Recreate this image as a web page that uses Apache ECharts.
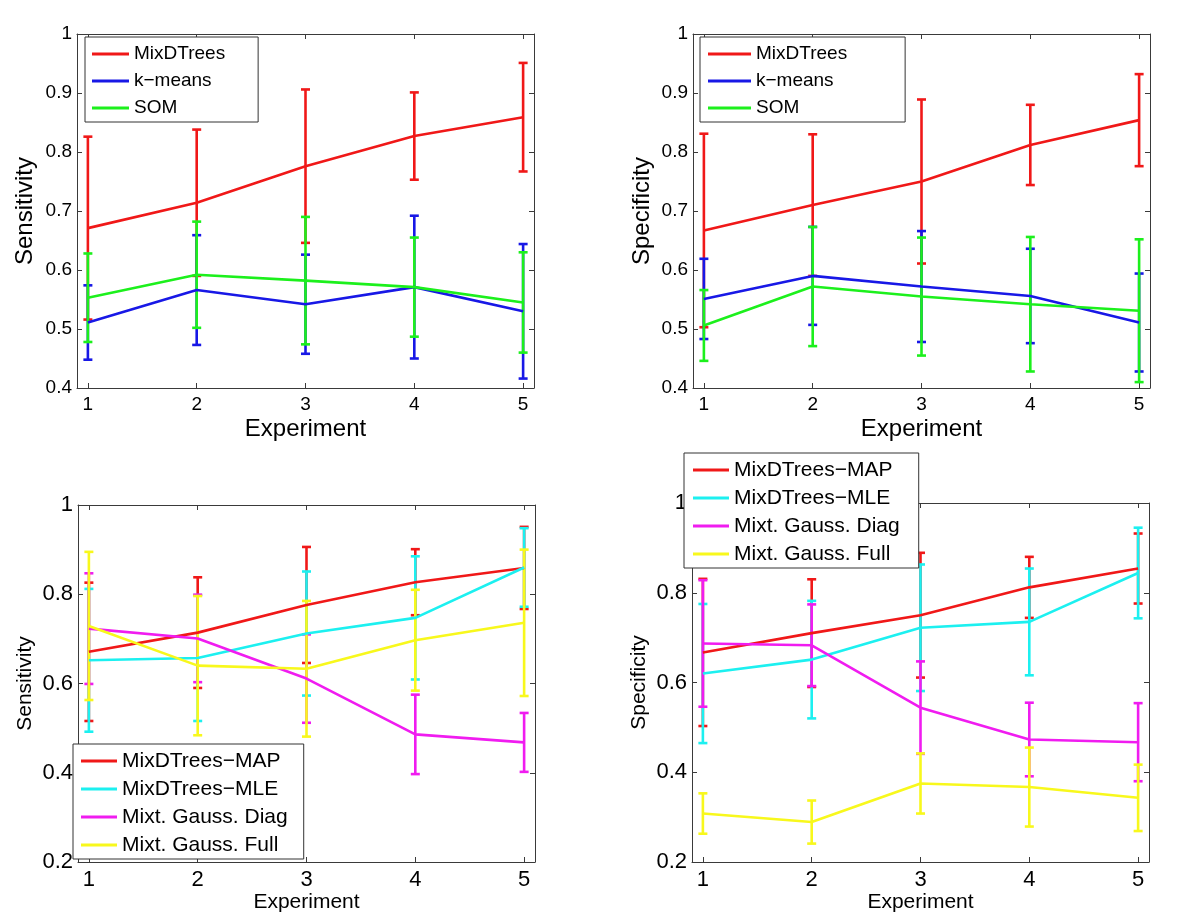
<!DOCTYPE html>
<html>
<head>
<meta charset="utf-8">
<script src="https://cdn.jsdelivr.net/npm/echarts@6/dist/echarts.min.js"></script>
<style>
html,body{margin:0;padding:0;background:#fff;}
#chart{width:1200px;height:917px;}
</style>
</head>
<body>
<div id="chart"></div>
<script>
// ---------- data ----------
const experiments = [1, 2, 3, 4, 5];
const xTickValues = [1, 2, 3, 4, 5];

// Top-left: Sensitivity
const sensMixMean = [0.671, 0.714, 0.776, 0.827, 0.859];
const sensMixErr  = [0.155, 0.124, 0.130, 0.074, 0.092];
const sensKmMean  = [0.511, 0.566, 0.542, 0.571, 0.530];
const sensKmErr   = [0.063, 0.093, 0.084, 0.121, 0.114];
const sensSomMean = [0.553, 0.592, 0.582, 0.571, 0.545];
const sensSomErr  = [0.075, 0.090, 0.108, 0.084, 0.085];

// Top-right: Specificity
const specMixMean = [0.667, 0.710, 0.750, 0.812, 0.854];
const specMixErr  = [0.164, 0.120, 0.139, 0.068, 0.078];
const specKmMean  = [0.551, 0.590, 0.572, 0.556, 0.511];
const specKmErr   = [0.068, 0.083, 0.094, 0.080, 0.083];
const specSomMean = [0.506, 0.572, 0.555, 0.542, 0.531];
const specSomErr  = [0.060, 0.101, 0.100, 0.114, 0.121];

// Bottom-left: Sensitivity (MAP = MixDTrees above)
const sensMleMean  = [0.652, 0.657, 0.712, 0.747, 0.860];
const sensMleErr   = [0.160, 0.141, 0.139, 0.138, 0.088];
const sensDiagMean = [0.723, 0.701, 0.611, 0.486, 0.468];
const sensDiagErr  = [0.124, 0.098, 0.099, 0.089, 0.066];
const sensFullMean = [0.729, 0.640, 0.633, 0.697, 0.736];
const sensFullErr  = [0.166, 0.156, 0.152, 0.113, 0.164];

// Bottom-right: Specificity (MAP = MixDTrees above)
const specMleMean  = [0.620, 0.651, 0.722, 0.735, 0.844];
const specMleErr   = [0.155, 0.131, 0.141, 0.119, 0.101];
const specDiagMean = [0.687, 0.683, 0.544, 0.473, 0.467];
const specDiagErr  = [0.141, 0.091, 0.103, 0.082, 0.087];
const specFullMean = [0.308, 0.289, 0.375, 0.367, 0.343];
const specFullErr  = [0.045, 0.048, 0.067, 0.088, 0.074];

const topNames = ['MixDTrees', 'k\u2212means', 'SOM'];
const bottomNames = ['MixDTrees\u2212MAP', 'MixDTrees\u2212MLE', 'Mixt. Gauss. Diag', 'Mixt. Gauss. Full'];

const xAxisName = 'Experiment';
const sensName = 'Sensitivity';
const specName = 'Specificity';

// ---------- styling ----------
const C = {
  red: '#f01818', blue: '#1818e6', green: '#1cf01c',
  cyan: '#1cf0f0', magenta: '#f01cf0', yellow: '#f8f81c'
};
const FONT = '"Liberation Sans", Arial, Helvetica, sans-serif';
const AXIS_COLOR = '#3a3a3a';

const panels = [
  {
    grid: {left: 77, top: 34, width: 457, height: 354},
    y: {min: 0.4, max: 1, interval: 0.1, name: sensName},
    tickFont: 19, nameFont: 24, xNameGap: 29, yNameGap: 40,
    series: [
      {name: topNames[0], color: C.red, mean: sensMixMean, err: sensMixErr},
      {name: topNames[1], color: C.blue, mean: sensKmMean, err: sensKmErr},
      {name: topNames[2], color: C.green, mean: sensSomMean, err: sensSomErr}
    ],
    legend: {left: 85, top: 37, padding: [7, 33, 4, 7], itemWidth: 37, font: 19, lineHeight: 20, gap: 7}
  },
  {
    grid: {left: 693, top: 34, width: 457, height: 354},
    y: {min: 0.4, max: 1, interval: 0.1, name: specName},
    tickFont: 19, nameFont: 24, xNameGap: 29, yNameGap: 39,
    series: [
      {name: topNames[0], color: C.red, mean: specMixMean, err: specMixErr},
      {name: topNames[1], color: C.blue, mean: specKmMean, err: specKmErr},
      {name: topNames[2], color: C.green, mean: specSomMean, err: specSomErr}
    ],
    legend: {left: 700, top: 37, padding: [7, 58, 4, 8], itemWidth: 43, font: 19, lineHeight: 20, gap: 7}
  },
  {
    grid: {left: 78, top: 505, width: 457, height: 357},
    y: {min: 0.2, max: 1, interval: 0.2, name: sensName},
    tickFont: 22, nameFont: 21, xNameGap: 30, yNameGap: 42,
    series: [
      {name: bottomNames[0], color: C.red, mean: sensMixMean, err: sensMixErr},
      {name: bottomNames[1], color: C.cyan, mean: sensMleMean, err: sensMleErr},
      {name: bottomNames[2], color: C.magenta, mean: sensDiagMean, err: sensDiagErr},
      {name: bottomNames[3], color: C.yellow, mean: sensFullMean, err: sensFullErr}
    ],
    legend: {left: 73, top: 744, padding: [6, 16, 3, 8], itemWidth: 36, font: 21, lineHeight: 22, gap: 6}
  },
  {
    grid: {left: 692, top: 503, width: 457, height: 359},
    y: {min: 0.2, max: 1, interval: 0.2, name: specName},
    tickFont: 22, nameFont: 21, xNameGap: 30, yNameGap: 42,
    series: [
      {name: bottomNames[0], color: C.red, mean: specMixMean, err: specMixErr},
      {name: bottomNames[1], color: C.cyan, mean: specMleMean, err: specMleErr},
      {name: bottomNames[2], color: C.magenta, mean: specDiagMean, err: specDiagErr},
      {name: bottomNames[3], color: C.yellow, mean: specFullMean, err: specFullErr}
    ],
    legend: {left: 684, top: 453, padding: [6, 19, 3, 9], itemWidth: 36, font: 21, lineHeight: 22, gap: 6}
  }
];

// ---------- build option ----------
const option = {
  animation: false,
  backgroundColor: '#fff',
  textStyle: {fontFamily: FONT},
  grid: [], xAxis: [], yAxis: [], series: [], legend: []
};

const tickStyle = {inside: true, length: 5, lineStyle: {color: AXIS_COLOR, width: 1}};
const lineStyleAxis = {show: true, onZero: false, lineStyle: {color: AXIS_COLOR, width: 1}};

function errorBarRender(color) {
  return function (params, api) {
    const x = api.value(0), m = api.value(1), e = api.value(2);
    const hi = api.coord([x, m + e]);
    const lo = api.coord([x, m - e]);
    const hw = 4.5;
    const style = {stroke: color, lineWidth: 2.6, fill: null};
    return {
      type: 'group',
      children: [
        {type: 'line', shape: {x1: hi[0], y1: hi[1], x2: lo[0], y2: lo[1]}, style: style},
        {type: 'line', shape: {x1: hi[0] - hw, y1: hi[1], x2: hi[0] + hw, y2: hi[1]}, style: style},
        {type: 'line', shape: {x1: lo[0] - hw, y1: lo[1], x2: lo[0] + hw, y2: lo[1]}, style: style}
      ]
    };
  };
}

panels.forEach((p, i) => {
  option.grid.push(Object.assign({containLabel: false}, p.grid));
  option.xAxis.push({
    type: 'value', gridIndex: i, position: 'bottom', min: 0.9, max: 5.1,
    name: xAxisName, nameLocation: 'middle', nameGap: p.xNameGap,
    nameTextStyle: {fontSize: p.nameFont, color: '#000', fontFamily: FONT},
    axisLine: lineStyleAxis,
    axisTick: Object.assign({customValues: xTickValues}, tickStyle),
    axisLabel: {customValues: xTickValues, fontSize: p.tickFont, color: '#000', margin: 7, fontFamily: FONT},
    splitLine: {show: false}
  });
  option.xAxis.push({
    type: 'value', gridIndex: i, position: 'top', min: 0.9, max: 5.1,
    axisLine: lineStyleAxis,
    axisTick: Object.assign({customValues: xTickValues}, tickStyle),
    axisLabel: {show: false},
    splitLine: {show: false}
  });
  option.yAxis.push({
    type: 'value', gridIndex: i, position: 'left',
    min: p.y.min, max: p.y.max, interval: p.y.interval,
    name: p.y.name, nameLocation: 'middle', nameGap: p.yNameGap,
    nameTextStyle: {fontSize: p.nameFont, color: '#000', fontFamily: FONT},
    axisLine: lineStyleAxis, axisTick: tickStyle,
    axisLabel: {fontSize: p.tickFont, color: '#000', margin: 5, fontFamily: FONT,
      formatter: v => String(Math.round(v * 10) / 10)},
    splitLine: {show: false}
  });
  option.yAxis.push({
    type: 'value', gridIndex: i, position: 'right',
    min: p.y.min, max: p.y.max, interval: p.y.interval,
    axisLine: lineStyleAxis, axisTick: tickStyle,
    axisLabel: {show: false}, splitLine: {show: false}
  });

  p.series.forEach((s) => {
    option.series.push({
      type: 'custom', xAxisIndex: 2 * i, yAxisIndex: 2 * i,
      renderItem: errorBarRender(s.color),
      encode: {x: 0, y: 1},
      data: experiments.map((x, k) => [x, s.mean[k], s.err[k]]),
      silent: true, z: 2
    });
    option.series.push({
      type: 'line', name: s.name, xAxisIndex: 2 * i, yAxisIndex: 2 * i,
      data: experiments.map((x, k) => [x, s.mean[k]]),
      showSymbol: false, symbol: 'none',
      color: s.color,
      lineStyle: {color: s.color, width: 2.6},
      itemStyle: {color: s.color},
      silent: true, z: 2
    });
  });

  const L = p.legend;
  option.legend.push({
    orient: 'vertical', left: L.left, top: L.top, padding: L.padding,
    data: p.series.map(s => s.name),
    icon: 'rect', itemWidth: L.itemWidth, itemHeight: 3, itemGap: L.gap,
    textStyle: {fontSize: L.font, lineHeight: L.lineHeight, color: '#000', fontFamily: FONT},
    backgroundColor: '#fff', borderColor: '#333', borderWidth: 1, borderRadius: 0,
    selectedMode: false, z: 10
  });
});

const chart = echarts.init(document.getElementById('chart'), null, {renderer: 'canvas'});
chart.setOption(option);
</script>
</body>
</html>
